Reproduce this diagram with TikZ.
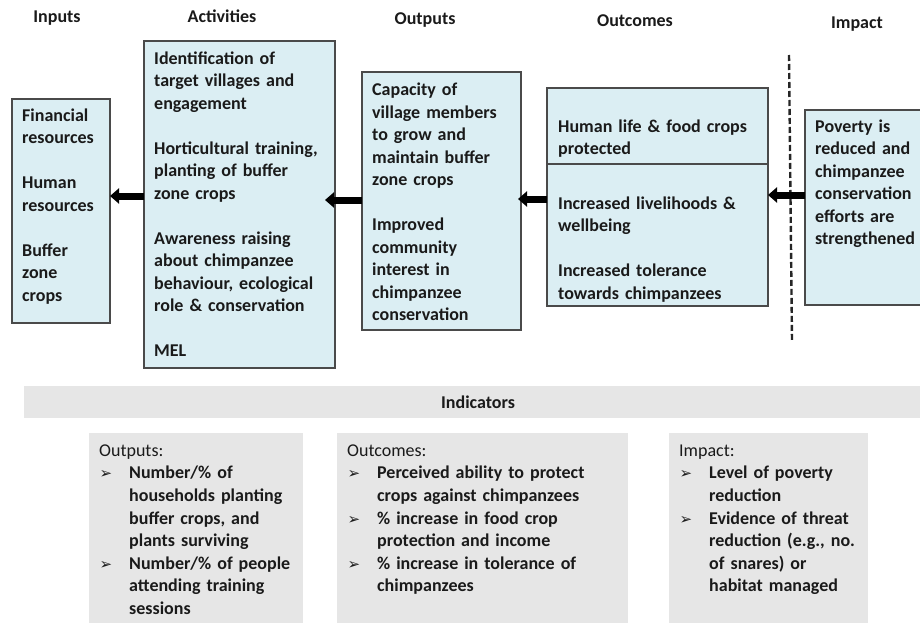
\documentclass[tikz,border=0pt]{standalone}
\usepackage{fontspec}
\setmainfont{Carlito}
\newfontfamily\dejavu{DejaVu Sans}
\usepackage{xcolor}
\usepackage{tikz}
\usetikzlibrary{arrows.meta,positioning,calc}
\definecolor{paleblue}{HTML}{DBEEF3}
\definecolor{rim}{HTML}{4A4A4A}
\definecolor{band}{HTML}{E6E6E6}
\definecolor{ink}{HTML}{1A1A1A}
\newcommand{\tick}{{\dejavu\fontsize{15}{12}\selectfont\hspace*{0.5pt}➢}}
\newcommand{\bitem}[1]{\par\noindent\hangindent=30pt\hangafter=1\makebox[30pt][l]{\tick}{\bfseries #1}\par}

\begin{document}
\begin{tikzpicture}[x=1pt, y=-1pt, >={Triangle[length=9pt, width=15pt]},
  box/.style={draw=rim, line width=1.3pt, fill=paleblue, anchor=north west, inner sep=0pt, outer sep=0pt},
  greybox/.style={fill=band, anchor=north west, inner sep=0pt, outer sep=0pt},
  body/.style={anchor=north west, inner sep=0pt, text width=220pt, align=left, text=ink,
    font=\bfseries\fontsize{18}{22.5}\selectfont, execute at begin node=\strut},
  note/.style={anchor=north west, inner sep=0pt, text width=300pt, align=left, text=ink,
    font=\fontsize{18}{22.6}\selectfont, execute at begin node=\strut},
  head/.style={anchor=base, inner sep=0pt, text=ink, font=\bfseries\fontsize{18}{22.5}\selectfont},
  fat/.style={->, line width=7pt, color=black}]
  \useasboundingbox (0,0) rectangle (920,623);
  \clip (0,0) rectangle (920,623);
  \def\gap{22.5pt}

  % column titles
  \node[head] (t-in) at (57,22.5) {Inputs};
  \node[head] (t-act) at (222,22.5) {Activities};
  \node[head] (t-out) at (425,24.5) {Outputs};
  \node[head] (t-oc) at (635,26.5) {Outcomes};
  \node[head] (t-imp) at (857,28.5) {Impact};

  % chain boxes
  \node[box, minimum width=98pt, minimum height=224pt] (inputs) at (12,99) {};
  \node[box, minimum width=191pt, minimum height=327pt] (activities) at (144,41) {};
  \node[box, minimum width=159pt, minimum height=258pt] (outputs) at (362,72) {};
  \node[box, minimum width=221pt, minimum height=218pt] (outcomes) at (547,88) {};
  \node[box, minimum width=140pt, minimum height=195pt] (impact) at (805,110) {};
  \draw[rim, line width=1.3pt] (outcomes.west |- 0,164) -- (outcomes.east |- 0,164);

  \node[body] (in-txt) at ($(inputs.north west)+(10,6.25)$)
    {Financial\\resources\\[\gap]Human\\resources\\[\gap]Buffer\\zone\\crops};
  \node[body] (act-txt) at ($(activities.north west)+(10,7.25)$)
    {Identification of\\target villages and\\engagement\\[\gap]Horticultural training,\\planting of buffer\\zone crops\\[\gap]Awareness raising\\about chimpanzee\\behaviour, ecological\\role \& conservation\\[\gap]MEL};
  \node[body] (out-txt) at ($(outputs.north west)+(10,7.75)$)
    {Capacity of\\village members\\to grow and\\maintain buffer\\zone crops\\[\gap]Improved\\community\\interest in\\chimpanzee\\conservation};
  \node[body] (oc-top) at ($(outcomes.north west)+(11,28.25)$)
    {Human life \& food crops\\protected};
  \node[body] (oc-low) at ($(outcomes.north west)+(11,105.25)$)
    {Increased livelihoods \&\\wellbeing\\[\gap]Increased tolerance\\towards chimpanzees};
  \node[body] (imp-txt) at ($(impact.north west)+(10,6.25)$)
    {Poverty is\\reduced and\\chimpanzee\\conservation\\efforts are\\strengthened};

  % impact boundary
  \coordinate (cut-top) at (789,55);
  \coordinate (cut-bot) at (792,341);
  \draw[black!85, line width=2.4pt, dash pattern=on 6pt off 3pt] (cut-top) -- (cut-bot);

  % backward arrows
  \draw[fat] (activities.west |- 0,196) -- (inputs.east |- 0,196);
  \draw[fat] (outputs.west |- 0,200) -- ($(activities.east |- 0,200)+(-10,0)$);
  \draw[fat] (outcomes.west |- 0,199) -- ($(outputs.east |- 0,199)+(-3,0)$);
  \draw[fat] (impact.west |- 0,195) -- (outcomes.east |- 0,195);

  % indicators
  \node[greybox, minimum width=910pt, minimum height=32pt] (ind-bar) at (24,386) {};
  \node[head] (ind-title) at (478,408) {Indicators};
  \node[greybox, minimum width=214pt, minimum height=200pt] (ind-out) at (89,433) {};
  \node[greybox, minimum width=291pt, minimum height=200pt] (ind-oc) at (337,433) {};
  \node[greybox, minimum width=199pt, minimum height=200pt] (ind-imp) at (669,433) {};

  \node[note] (ind-out-txt) at ($(ind-out.north west)+(10,7.25)$)
    {Outputs:\bitem{Number/\% of\newline households planting\newline buffer crops, and\newline plants surviving}\bitem{Number/\% of people\newline attending training\newline sessions}};
  \node[note] (ind-oc-txt) at ($(ind-oc.north west)+(10,7.25)$)
    {Outcomes:\bitem{Perceived ability to protect\newline crops against chimpanzees}\bitem{\% increase in food crop\newline protection and income}\bitem{\% increase in tolerance of\newline chimpanzees}};
  \node[note] (ind-imp-txt) at ($(ind-imp.north west)+(10,7.25)$)
    {Impact:\bitem{Level of poverty\newline reduction}\bitem{Evidence of threat\newline reduction (e.g., no.\newline of snares) or\newline habitat managed}};
\end{tikzpicture}
\end{document}
